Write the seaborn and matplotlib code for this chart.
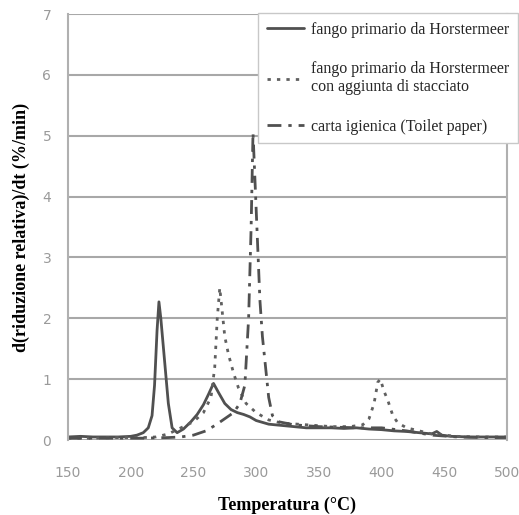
import matplotlib
matplotlib.use("Agg")
import matplotlib.pyplot as plt
import seaborn as sns
import pandas as pd

# --- data ---
t_solid = [150,160,170,180,190,200,205,210,214,217,219,221,222.5,224,227,230,233,237,242,248,253,258,262,266,270,275,280,285,290,295,300,310,320,330,340,350,360,370,380,390,400,410,420,430,440,444,448,455,470,485,500]
v_solid = [0.05,0.06,0.05,0.05,0.05,0.06,0.08,0.12,0.2,0.4,0.9,1.8,2.27,2.0,1.3,0.6,0.2,0.12,0.18,0.3,0.42,0.58,0.75,0.93,0.78,0.6,0.5,0.45,0.42,0.38,0.32,0.26,0.24,0.22,0.2,0.2,0.2,0.19,0.2,0.18,0.17,0.15,0.14,0.12,0.1,0.14,0.08,0.06,0.05,0.05,0.05]

t_dotted = [150,170,190,210,220,230,240,250,258,264,267,269,271,273,275,278,282,286,292,300,310,320,340,360,375,385,390,394,397,399,402,405,409,413,420,430,440,460,480,500]
v_dotted = [0.03,0.03,0.04,0.04,0.05,0.1,0.2,0.3,0.45,0.7,1.2,2.0,2.5,2.1,1.7,1.4,1.1,0.85,0.6,0.45,0.33,0.28,0.25,0.22,0.22,0.25,0.35,0.6,0.95,1.0,0.8,0.65,0.4,0.28,0.2,0.15,0.1,0.06,0.05,0.05]

t_dashdot = [150,170,190,210,230,240,250,260,268,275,282,287,291,294,296,297.5,299,301,303,305,307,310,313,318,330,350,380,400,420,440,460,480,500]
v_dashdot = [0.03,0.03,0.03,0.03,0.04,0.05,0.08,0.15,0.25,0.35,0.45,0.6,0.9,2.0,3.5,5.05,4.3,3.3,2.3,1.7,1.3,0.7,0.4,0.3,0.25,0.22,0.2,0.2,0.15,0.08,0.05,0.04,0.04]

labels = ["fango primario da Horstermeer",
          "fango primario da Horstermeer\ncon aggiunta di stacciato",
          "carta igienica (Toilet paper)"]
x_ticks = [150, 200, 250, 300, 350, 400, 450, 500]
y_ticks = [0, 1, 2, 3, 4, 5, 6, 7]

sns.set_theme(style="white")
plt.rcParams['font.family'] = ['DejaVu Sans']

fig = plt.figure(figsize=(5.19, 5.15), dpi=100)
ax = fig.add_axes([68/519, 1-440/515, (507-68)/519, (440-14)/515])

df1 = pd.DataFrame({"T": t_solid, "v": v_solid})
df2 = pd.DataFrame({"T": t_dotted, "v": v_dotted})
df3 = pd.DataFrame({"T": t_dashdot, "v": v_dashdot})

sns.lineplot(data=df1, x="T", y="v", ax=ax, color="#505050", lw=2.0, ls="-", label=labels[0], sort=False)
sns.lineplot(data=df2, x="T", y="v", ax=ax, color="#606060", lw=2.0, ls=(0, (1.2, 2.2)), label=labels[1], sort=False)
sns.lineplot(data=df3, x="T", y="v", ax=ax, color="#505050", lw=2.0, ls=(0, (5, 2.5, 1.2, 2.5)), label=labels[2], sort=False)

ax.set_xlim(150, 500)
ax.set_ylim(0, 7)
ax.set_xticks(x_ticks)
ax.set_yticks(y_ticks)
ax.yaxis.grid(True, color="#a8a8a8", lw=1.5)
ax.xaxis.grid(False)
ax.set_axisbelow(True)
for s in ["left", "right"]:
    ax.spines[s].set_color("#b0b0b0")
    ax.spines[s].set_linewidth(1.5)
for s in ["top", "bottom"]:
    ax.spines[s].set_visible(False)
ax.tick_params(axis="both", colors="#9a9a9a", labelsize=10, length=0)
ax.tick_params(axis="x", pad=19)
ax.tick_params(axis="y", pad=12)
for lab in ax.get_xticklabels() + ax.get_yticklabels():
    lab.set_color("#9a9a9a")

ax.set_xlabel("Temperatura (°C)", family="Liberation Serif", fontweight="bold", fontsize=13, color="black", labelpad=12)
ax.set_ylabel("d(riduzione relativa)/dt (%/min)", family="Liberation Serif", fontweight="bold", fontsize=13, color="black", labelpad=9)

leg = ax.legend(loc="upper right", bbox_to_anchor=(518/519, 1-13/515), bbox_transform=fig.transFigure,
                prop={"family": "Liberation Serif", "size": 11.5}, frameon=True, fancybox=False,
                edgecolor="#c8c8c8", framealpha=1, handlelength=2.3, labelspacing=1.45,
                borderpad=0.55, handletextpad=0.45, borderaxespad=0)
leg.get_frame().set_linewidth(1.0)

fig.savefig("out.png", dpi=100)
